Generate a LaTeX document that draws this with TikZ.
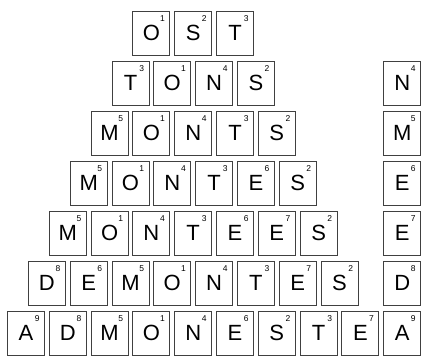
\documentclass[tikz,border=0pt]{standalone}
\usepackage{fontspec}
\setmainfont{Liberation Sans}
\tikzset{
  tile/.style={draw=black!75, line width=0.9pt, minimum width=37pt, minimum height=44.5pt,
    inner sep=0pt, font=\fontsize{22}{22}\selectfont, fill=white},
  num/.style={inner sep=0pt, font=\fontsize{8.5}{8.5}\selectfont},
}
\newcommand\tilerow[3]{%
  \foreach \L/\N [count=\k from 0] in {#3} {
    \pgfmathsetmacro\xx{193.2+(\k-(#2-1)/2)*41.8}
    \pgfmathsetmacro\yy{322.75-50*#1}
    \node[tile] (t#1-\k) at (\xx pt,\yy pt) {\L};
    \node[num] (n#1-\k) at ([xshift=-7.8pt,yshift=-8pt]t#1-\k.north east) {\N};
  }}
\newcommand\sidetile[3]{%
  \pgfmathsetmacro\yy{322.75-50*#1}
  \node[tile] (s#1) at (402.2pt,\yy pt) {#2};
  \node[num] (sn#1) at ([xshift=-7.8pt,yshift=-8pt]s#1.north east) {#3};
}
\begin{document}
\begin{tikzpicture}
\useasboundingbox (0,0) rectangle (421pt,356pt);
\tilerow{0}{3}{O/1,S/2,T/3}
\tilerow{1}{4}{T/3,O/1,N/4,S/2}
\tilerow{2}{5}{M/5,O/1,N/4,T/3,S/2}
\tilerow{3}{6}{M/5,O/1,N/4,T/3,E/6,S/2}
\tilerow{4}{7}{M/5,O/1,N/4,T/3,E/6,E/7,S/2}
\tilerow{5}{8}{D/8,E/6,M/5,O/1,N/4,T/3,E/7,S/2}
\tilerow{6}{9}{A/9,D/8,M/5,O/1,N/4,E/6,S/2,T/3,E/7}
\sidetile{1}{N}{4}
\sidetile{2}{M}{5}
\sidetile{3}{E}{6}
\sidetile{4}{E}{7}
\sidetile{5}{D}{8}
\sidetile{6}{A}{9}
\end{tikzpicture}
\end{document}
